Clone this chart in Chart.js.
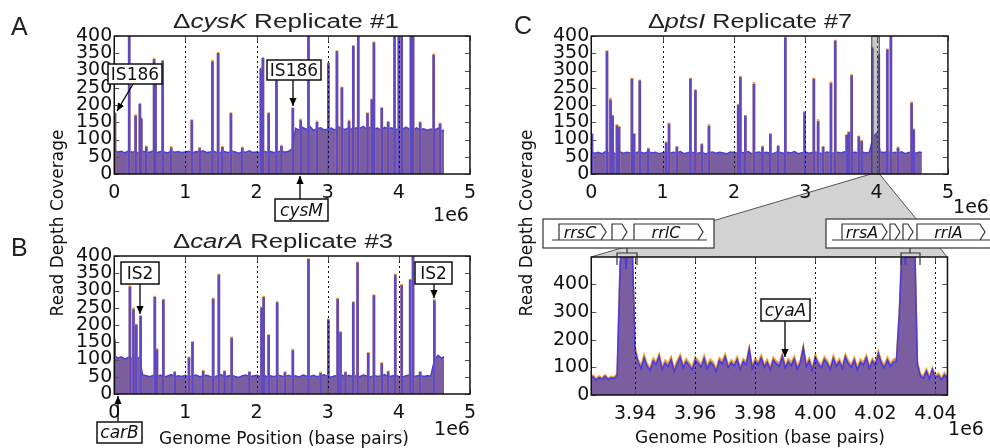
<!DOCTYPE html>
<html>
<head>
<meta charset="utf-8">
<title>Read depth coverage</title>
<script src="https://cdn.jsdelivr.net/npm/chart.js@4.4.1/dist/chart.umd.min.js"></script>
<style>
  html, body { margin: 0; padding: 0; background: #fff; }
  body { position: relative; width: 990px; height: 448px; overflow: hidden; }
  .panel { position: absolute; z-index: 1; }
  .panel canvas { display: block; }
  svg.layer { position: absolute; left: 0; top: 0; width: 990px; height: 448px; }
  #under { z-index: 0; }
  #over { z-index: 2; pointer-events: none; }
</style>
</head>
<body>
<svg id="under" class="layer" xmlns="http://www.w3.org/2000/svg" width="990" height="448">
  <polygon id="zoomFan" fill="#d2d2d2" stroke="none" points="0,0"/>
  <line id="fanLeft" stroke="#555" stroke-width="1"/>
  <line id="fanRight" stroke="#555" stroke-width="1"/>
</svg>

<div class="panel" id="panelA"></div>
<div class="panel" id="panelB"></div>
<div class="panel" id="panelC"></div>
<div class="panel" id="panelZoom"></div>

<svg id="over" class="layer" xmlns="http://www.w3.org/2000/svg" width="990" height="448">
  <defs>
    <marker id="head" viewBox="0 0 10 10" refX="10" refY="5" markerWidth="8" markerHeight="8"
            markerUnits="userSpaceOnUse" orient="auto">
      <path d="M0,0.5 L10,5 L0,9.5 z" fill="#000"/>
    </marker>
  </defs>

  <!-- panel letters and titles -->
  <g font-family="Liberation Sans, Arial, sans-serif" fill="#222">
    <text x="11" y="35" font-size="25">A</text>
    <text x="11" y="256" font-size="25">B</text>
    <text x="514" y="34" font-size="25">C</text>
    <text x="173" y="28" font-size="20" textLength="226" lengthAdjust="spacingAndGlyphs">Δ<tspan font-style="italic">cysK</tspan> Replicate #1</text>
    <text x="173" y="248" font-size="20" textLength="220" lengthAdjust="spacingAndGlyphs">Δ<tspan font-style="italic">carA</tspan> Replicate #3</text>
    <text x="648" y="28" font-size="20" textLength="204" lengthAdjust="spacingAndGlyphs">Δ<tspan font-style="italic">ptsI</tspan> Replicate #7</text>
  </g>

  <!-- axis labels -->
  <g font-family="DejaVu Sans" font-size="17" fill="#111" text-anchor="middle">
    <text transform="translate(63,223) rotate(-90)">Read Depth Coverage</text>
    <text transform="translate(532,223) rotate(-90)">Read Depth Coverage</text>
    <text x="284" y="444">Genome Position (base pairs)</text>
    <text x="760" y="443">Genome Position (base pairs)</text>
  </g>
  <g font-family="DejaVu Sans" font-size="19" fill="#111" text-anchor="middle">
    <text x="451" y="221">1e6</text>
    <text x="452" y="435">1e6</text>
    <text x="971" y="213">1e6</text>
    <text x="966" y="435">1e6</text>
  </g>

  <!-- callouts -->
  <g stroke="#000" stroke-width="1.3" fill="none">
    <line x1="133" y1="84" x2="117" y2="111" marker-end="url(#head)"/>
    <line x1="293" y1="80" x2="293" y2="106" marker-end="url(#head)"/>
    <line x1="300" y1="199" x2="300" y2="176" marker-end="url(#head)"/>
    <line x1="140" y1="284" x2="140" y2="314" marker-end="url(#head)"/>
    <line x1="434" y1="284" x2="434" y2="298" marker-end="url(#head)"/>
    <line x1="118" y1="422" x2="118" y2="396" marker-end="url(#head)"/>
    <line x1="785" y1="321" x2="785" y2="357" marker-end="url(#head)"/>
  </g>
  <g stroke="#111" stroke-width="1.5" fill="#fff">
    <rect x="108" y="64" width="54" height="20"/>
    <rect x="267" y="60" width="54" height="20"/>
    <rect x="275" y="199" width="53" height="22"/>
    <rect x="121" y="262" width="38" height="22"/>
    <rect x="415" y="262" width="37" height="22"/>
    <rect x="97" y="422" width="45" height="21"/>
    <rect x="761" y="299" width="49" height="22"/>
  </g>
  <g font-family="DejaVu Sans" font-size="17" fill="#111" text-anchor="middle">
    <text x="135" y="80">IS186</text>
    <text x="294" y="76">IS186</text>
    <text x="301.5" y="216" font-style="italic">cysM</text>
    <text x="140" y="279">IS2</text>
    <text x="433.5" y="279">IS2</text>
    <text x="119.5" y="438" font-style="italic">carB</text>
    <text x="785.5" y="316" font-style="italic">cyaA</text>
  </g>

  <!-- rRNA operon maps above the zoomed panel -->
  <g id="operons" stroke="#333" stroke-width="1.2" fill="none">
    <rect x="543" y="219" width="171" height="29" fill="#fff"/>
    <rect x="826" y="219" width="180" height="29" fill="#fff"/>
    <line x1="552" y1="240" x2="707" y2="240"/>
    <line x1="832" y1="240" x2="1000" y2="240"/>
    <path d="M627,248 V253 M617,265 V253 H637 V265"/>
    <path d="M910,248 V253 M901,265 V253 H920 V265"/>
  </g>
</svg>

<script>
// ---- genome-wide coverage, one value every 50 kb ----
const genomeStep = 50000;
const genomeEnd = 4635000;

const cysKBase = [
  68, 64, 66, 61, 67, 63, 65, 60, 66, 64,
  63, 67, 62, 65, 64, 61, 66, 63, 65, 62,
  64, 66, 61, 65, 63, 67, 62, 64, 66, 61,
  63, 65, 62, 66, 64, 60, 65, 63, 67, 62,
  64, 61, 66, 63, 65, 62, 64, 67, 63, 66,
  72, 132, 127, 135, 129, 138, 126, 131, 134, 128,
  130, 133, 127, 137, 131, 129, 135, 128, 134, 132,
  138, 130, 136, 129, 133, 127, 135, 131, 134, 128,
  132, 129, 136, 130, 127, 134, 128, 131, 126, 130,
  127, 133, 124
];
const cysKEnd = 128;

const carABase = [
  112, 104, 108, 101, 107, 103, 99, 106, 55, 53,
  50, 54, 51, 55, 49, 52, 56, 50, 53, 51,
  54, 49, 53, 55, 50, 52, 54, 51, 49, 53,
  56, 50, 52, 54, 51, 48, 53, 55, 50, 52,
  54, 51, 56, 49, 53, 50, 55, 52, 51, 54,
  50, 53, 49, 55, 52, 51, 54, 50, 53, 56,
  51, 49, 53, 52, 55, 50, 54, 51, 53, 50,
  55, 52, 49, 54, 51, 53, 56, 50, 52, 54,
  51, 49, 53, 55, 50, 52, 54, 51, 53, 52,
  98, 112, 104
];
const carAEnd = 108;

const ptsIBase = [
  64, 60, 63, 59, 65, 61, 62, 58, 64, 60,
  63, 61, 59, 64, 62, 60, 65, 61, 63, 59,
  62, 64, 60, 63, 61, 65, 59, 62, 64, 60,
  61, 63, 58, 62, 64, 60, 63, 61, 59, 64,
  62, 60, 63, 61, 65, 59, 62, 64, 60, 63,
  61, 59, 64, 62, 60, 63, 61, 65, 59, 62,
  64, 60, 62, 63, 61, 59, 64, 62, 60, 63,
  61, 64, 59, 62, 63, 60, 64, 61, 63, 108,
  118, 64, 62, 65, 60, 63, 61, 64, 59, 62,
  63, 60, 64
];
const ptsIEnd = 62;

// narrow peaks: [position (Mb), blue depth, orange depth]
const cysKSpikes = [
  [0.01, 175, 178], [0.21, 420, 420], [0.30, 168, 172], [0.36, 202, 205], [0.38, 160, 163],
  [0.45, 78, 82], [0.56, 332, 336], [0.58, 300, 304], [0.68, 327, 330], [0.80, 76, 80],
  [1.09, 155, 158], [1.20, 74, 78], [1.38, 325, 330], [1.46, 350, 353], [1.52, 77, 80],
  [1.64, 175, 178], [1.80, 75, 79], [2.06, 305, 308], [2.09, 335, 338], [2.17, 175, 178],
  [2.28, 270, 273], [2.35, 80, 84], [2.51, 190, 192], [2.62, 155, 160], [2.73, 420, 420],
  [2.85, 150, 154], [3.01, 320, 323], [3.13, 355, 358], [3.20, 250, 253], [3.30, 152, 156],
  [3.36, 370, 373], [3.43, 420, 420], [3.56, 175, 178], [3.62, 215, 218], [3.65, 380, 383],
  [3.76, 190, 193], [3.85, 150, 153], [3.94, 420, 420], [4.00, 420, 420], [4.04, 420, 420],
  [4.17, 420, 420], [4.20, 420, 420], [4.30, 148, 152], [4.49, 345, 348], [4.58, 145, 148]
];
const carASpikes = [
  [0.005, 155, 160], [0.22, 310, 314], [0.27, 245, 250], [0.31, 200, 203], [0.37, 225, 228],
  [0.57, 280, 284], [0.60, 128, 132], [0.69, 272, 275], [0.85, 62, 66], [1.05, 105, 108],
  [1.10, 150, 152], [1.25, 66, 70], [1.39, 275, 278], [1.47, 345, 348], [1.55, 65, 68],
  [1.65, 162, 166], [1.90, 63, 66], [2.07, 250, 253], [2.10, 280, 284], [2.17, 170, 172],
  [2.29, 265, 268], [2.40, 62, 65], [2.51, 126, 130], [2.73, 390, 393], [2.90, 60, 64],
  [3.01, 215, 218], [3.14, 275, 278], [3.18, 178, 182], [3.25, 62, 65], [3.36, 265, 268],
  [3.42, 380, 383], [3.57, 118, 121], [3.65, 285, 288], [3.76, 88, 91], [3.85, 64, 67],
  [3.95, 345, 348], [4.04, 315, 318], [4.16, 330, 333], [4.20, 400, 405], [4.30, 63, 66],
  [4.50, 270, 275]
];
const ptsISpikes = [
  [0.01, 115, 118], [0.22, 355, 358], [0.27, 214, 220], [0.30, 168, 170], [0.36, 140, 143],
  [0.39, 135, 138], [0.57, 275, 278], [0.60, 115, 118], [0.68, 270, 273], [0.80, 72, 76],
  [1.05, 90, 93], [1.09, 145, 148], [1.20, 78, 80], [1.39, 275, 278], [1.46, 242, 245],
  [1.55, 85, 88], [1.65, 138, 144], [2.06, 200, 203], [2.09, 280, 284], [2.16, 168, 170],
  [2.28, 260, 266], [2.40, 78, 82], [2.51, 115, 118], [2.62, 80, 84], [2.72, 395, 398],
  [2.99, 178, 181], [3.12, 275, 278], [3.18, 152, 158], [3.25, 78, 80], [3.36, 262, 267],
  [3.42, 385, 388], [3.58, 112, 115], [3.61, 120, 123], [3.65, 285, 288], [3.75, 108, 111],
  [3.79, 95, 98], [3.94, 365, 368], [4.03, 345, 348], [4.15, 360, 363], [4.20, 420, 420],
  [4.30, 75, 79], [4.49, 205, 210], [4.52, 128, 131]
];

// ---- zoom on 3.925-4.044 Mb, one value every 1 kb ----
const zoomStart = 3925000;
const zoomStep = 1000;
const zoomMin = 3925400;
const zoomMax = 4044000;
const zoomPosTicks = [3940000, 3960000, 3980000, 4000000, 4020000, 4040000];
const zoomDepthTicks = [0, 100, 200, 300, 400];

const zoomBlue = [
  58, 66, 54, 63, 57, 68, 56, 62, 59, 72,
  470, 610, 455, 640, 560, 160,
  118, 96, 135, 104, 88, 122, 110, 140, 92, 115,
  102, 128, 85, 112, 136, 98, 120, 106, 90, 125,
  114, 100, 132, 95, 118, 108, 84, 124, 112, 138,
  99, 116, 104, 128, 92, 120, 110, 168, 96, 122,
  108, 134, 100, 118, 90, 126, 112, 104, 140, 98,
  120, 106, 130, 94, 116, 172, 102, 124, 88, 136,
  110, 98, 128, 114, 92, 132, 104, 120, 96, 138,
  112, 100, 126, 90, 118, 108, 134, 96, 122, 106,
  150, 114, 98, 126, 104, 118, 122,
  300, 580, 470, 650, 520, 600,
  110,
  68, 60, 86, 58, 92, 62, 70, 55, 72, 60
];
const zoomOrange = [
  64, 72, 60, 70, 62, 74, 61, 68, 66, 78,
  480, 620, 470, 650, 570, 175,
  130, 110, 148, 115, 100, 135, 122, 150, 105, 128,
  115, 140, 98, 125, 148, 110, 132, 118, 102, 138,
  126, 112, 145, 108, 130, 120, 96, 136, 124, 150,
  110, 128, 116, 140, 104, 132, 122, 175, 108, 134,
  120, 146, 112, 130, 102, 138, 124, 116, 152, 110,
  132, 118, 142, 106, 128, 180, 114, 136, 100, 148,
  122, 110, 140, 126, 104, 144, 116, 132, 108, 150,
  124, 112, 138, 102, 130, 120, 146, 108, 134, 118,
  162, 126, 110, 138, 116, 130, 134,
  320, 590, 480, 660, 530, 610,
  122,
  78, 70, 96, 68, 100, 72, 80, 64, 82, 70
];

// operon maps: [name, start px, end px]
const leftGenes = [["rrsC", 559, 606], ["", 612, 627], ["rrlC", 634, 703]];
const rightGenes = [["rrsA", 842, 887], ["", 890, 900], ["", 903, 913], ["rrlA", 917, 985]];

// ---- styling ----
const fillPurple = "#7b5e9f";
const blueLine = "#4b3ed6";
const spikeBlue = "#5d48c6";
const orangeTip = "#f6a52c";
const tickFont = { family: "DejaVu Sans", size: 19, lineHeight: 1 };

// frame, inward ticks, dotted grid and (optionally) the zoom band
const framePlugin = {
  id: "frame",
  afterDatasetsDraw(chart, args, opts) {
    const { ctx, chartArea: a, scales: { x, y } } = chart;
    ctx.save();
    ctx.lineWidth = 1;
    ctx.strokeStyle = "#111";
    ctx.setLineDash([2, 3]);
    x.ticks.forEach(t => {
      const px = Math.round(x.getPixelForValue(t.value)) + 0.5;
      if (px < a.left + 3 || px > a.right - 3) return;
      ctx.beginPath();
      ctx.moveTo(px, a.top);
      ctx.lineTo(px, a.bottom);
      ctx.stroke();
    });
    ctx.setLineDash([]);

    if (opts.band) {
      const x0 = x.getPixelForValue(opts.band[0]);
      const x1 = x.getPixelForValue(opts.band[1]);
      ctx.fillStyle = "rgba(110,110,110,0.38)";
      ctx.fillRect(x0, a.top, x1 - x0, a.bottom - a.top);
      ctx.strokeStyle = "#444";
      ctx.strokeRect(x0 + 0.5, a.top, x1 - x0 - 1, a.bottom - a.top);
    }

    ctx.strokeStyle = "#555";
    ctx.beginPath();
    y.ticks.forEach(t => {
      const py = Math.round(y.getPixelForValue(t.value)) + 0.5;
      ctx.moveTo(a.left, py); ctx.lineTo(a.left + 5, py);
      ctx.moveTo(a.right, py); ctx.lineTo(a.right - 5, py);
    });
    x.ticks.forEach(t => {
      const px = Math.round(x.getPixelForValue(t.value)) + 0.5;
      ctx.moveTo(px, a.bottom); ctx.lineTo(px, a.bottom - 5);
      ctx.moveTo(px, a.top); ctx.lineTo(px, a.top + 5);
    });
    ctx.stroke();

    ctx.lineWidth = 1.5;
    ctx.strokeStyle = "#111";
    ctx.strokeRect(a.left, a.top, a.right - a.left, a.bottom - a.top);
    ctx.restore();
  }
};

const fixedTicks = values => scale => { scale.ticks = values.map(v => ({ value: v })); };

function axisX(min, max, step, fmt, values) {
  return {
    type: "linear", min, max, offset: false,
    grid: { display: false, drawTicks: false }, border: { display: false },
    afterBuildTicks: values ? fixedTicks(values) : undefined,
    ticks: {
      stepSize: step, autoSkip: false, maxRotation: 0,
      padding: 10, color: "#111", font: tickFont, callback: fmt
    }
  };
}

function axisY(max, step, values) {
  return {
    min: 0, max,
    grid: { display: false, drawTicks: false }, border: { display: false },
    afterBuildTicks: values ? fixedTicks(values) : undefined,
    ticks: { stepSize: step, autoSkip: false, padding: 2, color: "#111", font: tickFont }
  };
}

function baseOptions(x, y, band) {
  return {
    responsive: false, maintainAspectRatio: false, animation: false, events: [],
    devicePixelRatio: 1,
    layout: { padding: { top: 12, right: 12, left: 0, bottom: 0 } },
    plugins: { legend: { display: false }, tooltip: { enabled: false }, frame: { band } },
    scales: { x, y }
  };
}

function genomeConfig(base, end, spikes, band) {
  return () => ({
    type: "line",
    data: {
      datasets: [
        {
          data: base.map((v, i) => ({ x: i * genomeStep, y: v })).concat([{ x: genomeEnd, y: end }]),
          borderColor: blueLine, borderWidth: 1.5, backgroundColor: fillPurple,
          fill: "origin", pointRadius: 0, tension: 0, order: 3, clip: 0
        },
        {
          type: "bar", data: spikes.map(s => ({ x: s[0] * 1e6, y: s[2] })),
          backgroundColor: orangeTip, barThickness: 2, grouped: false, order: 2, clip: 0
        },
        {
          type: "bar", data: spikes.map(s => ({ x: s[0] * 1e6, y: s[1] })),
          backgroundColor: spikeBlue, barThickness: 2, grouped: false, order: 1, clip: 0
        }
      ]
    },
    options: baseOptions(axisX(0, 5e6, 1e6, v => String(v / 1e6)), axisY(400, 50), band),
    plugins: [framePlugin]
  });
}

function zoomConfig() {
  const pts = arr => arr.map((v, i) => ({ x: zoomStart + i * zoomStep, y: v }));
  return {
    type: "line",
    data: {
      datasets: [
        {
          data: pts(zoomOrange), borderColor: "rgba(250,160,25,0.9)", borderWidth: 1.4,
          backgroundColor: "#a38bc0", fill: "origin", pointRadius: 0, order: 2, clip: 0
        },
        {
          data: pts(zoomBlue), borderColor: "rgba(68,52,226,0.9)", borderWidth: 1.6,
          backgroundColor: fillPurple, fill: "origin", pointRadius: 0, order: 1, clip: 0
        }
      ]
    },
    options: baseOptions(
      axisX(zoomMin, zoomMax, 20000, v => (v / 1e6).toFixed(2), zoomPosTicks),
      axisY(498, 100, zoomDepthTicks)
    ),
    plugins: [framePlugin]
  };
}

// build a chart, then rebuild it so that its plot area lands on the wanted rectangle
function mount(id, area, makeConfig) {
  const wrap = document.getElementById(id);
  const build = (w, h) => {
    wrap.innerHTML = "";
    const c = document.createElement("canvas");
    c.width = w;
    c.height = h;
    wrap.appendChild(c);
    return new Chart(c, makeConfig());
  };
  let w = area.w + 70, h = area.h + 45;
  let chart = build(w, h);
  let a = chart.chartArea;
  w += area.w - (a.right - a.left);
  h += area.h - (a.bottom - a.top);
  chart.destroy();
  chart = build(w, h);
  a = chart.chartArea;
  const ox = area.x - a.left, oy = area.y - a.top;
  wrap.style.left = ox + "px";
  wrap.style.top = oy + "px";
  return { chart, ox, oy };
}

const pA = mount("panelA", { x: 114, y: 36, w: 356, h: 138 }, genomeConfig(cysKBase, cysKEnd, cysKSpikes));
const pB = mount("panelB", { x: 114, y: 256, w: 356, h: 138 }, genomeConfig(carABase, carAEnd, carASpikes));
const pC = mount("panelC", { x: 591, y: 36, w: 357, h: 138 }, genomeConfig(ptsIBase, ptsIEnd, ptsISpikes, [zoomMin, zoomMax]));
const pZ = mount("panelZoom", { x: 591, y: 257, w: 357, h: 138 }, zoomConfig);

// grey fan joining the highlighted band to the zoomed panel
(function drawFan() {
  const sx = pC.chart.scales.x;
  const t0 = pC.ox + sx.getPixelForValue(zoomMin);
  const t1 = pC.ox + sx.getPixelForValue(zoomMax);
  const ty = pC.oy + pC.chart.chartArea.bottom;
  const za = pZ.chart.chartArea;
  const b0 = pZ.ox + za.left, b1 = pZ.ox + za.right, by = pZ.oy + za.top;
  document.getElementById("zoomFan").setAttribute("points", `${t0},${ty} ${t1},${ty} ${b1},${by} ${b0},${by}`);
  const setLine = (id, x1, y1, x2, y2) => {
    const l = document.getElementById(id);
    l.setAttribute("x1", x1); l.setAttribute("y1", y1);
    l.setAttribute("x2", x2); l.setAttribute("y2", y2);
  };
  setLine("fanLeft", t0, ty, b0, by);
  setLine("fanRight", t1, ty, b1, by);
})();

// gene arrows inside the operon boxes
(function drawGenes() {
  const ns = "http://www.w3.org/2000/svg";
  const g = document.getElementById("operons");
  [...leftGenes, ...rightGenes].forEach(([name, x0, x1]) => {
    const p = document.createElementNS(ns, "path");
    p.setAttribute("d", `M${x0},240 V224 H${x1 - 5} L${x1},232 L${x1 - 5},240`);
    g.appendChild(p);
    if (name) {
      const t = document.createElementNS(ns, "text");
      t.setAttribute("x", (x0 + x1 - 5) / 2);
      t.setAttribute("y", 238);
      t.setAttribute("text-anchor", "middle");
      t.setAttribute("font-family", "DejaVu Sans");
      t.setAttribute("font-size", "16");
      t.setAttribute("font-style", "italic");
      t.setAttribute("fill", "#111");
      t.setAttribute("stroke", "none");
      t.textContent = name;
      g.appendChild(t);
    }
  });
})();
</script>
</body>
</html>
